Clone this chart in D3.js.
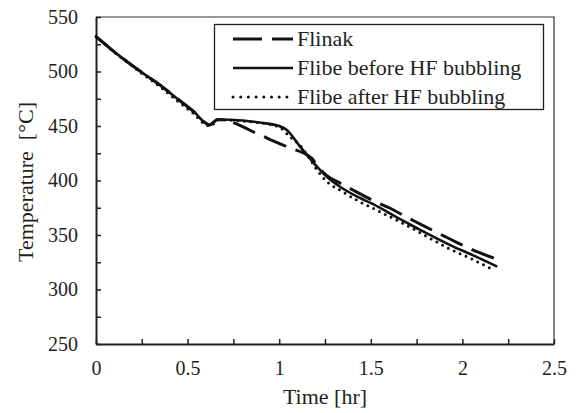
<!DOCTYPE html>
<html lang="en">
<head>
	<meta charset="utf-8">
	<title>Cooling curves</title>
	<script type="text/javascript" src="https://cdn.jsdelivr.net/npm/d3@7/dist/d3.min.js"></script>
	<style type="text/css">
		body { margin: 0; background: #fff; }
		text { font-family: "Liberation Serif", "Times New Roman", serif; fill: #231f20; }
	</style>
</head>
<body>
<script type="text/javascript">
	// data: time [hr] and temperature [C]
	var flinakTime = [0, 0.05, 0.1, 0.17, 0.26, 0.35, 0.44, 0.535, 0.6, 0.62, 0.665, 0.7, 0.8, 0.86, 0.9, 0.99, 1.05, 1.18, 1.2, 1.26, 1.34, 1.4, 1.52, 1.6, 1.7, 1.77, 1.9, 1.96, 2.09, 2.2];
	var flinakTemp = [532, 525, 518, 509, 498, 487.5, 475.5, 463, 452.5, 451, 456, 455.5, 449.5, 444.5, 441.5, 434.7, 430.5, 420, 415, 404.5, 397, 391.5, 381, 375, 366, 360, 349, 344, 334, 327];

	var beforeTime = [0, 0.05, 0.1, 0.17, 0.26, 0.35, 0.44, 0.535, 0.6, 0.62, 0.665, 0.8, 0.9, 1.0, 1.04, 1.11, 1.19, 1.26, 1.33, 1.44, 1.51, 1.66, 1.76, 1.93, 2.05, 2.19];
	var beforeTemp = [532, 525, 518, 509, 498, 487.5, 475.5, 463, 452.5, 451, 456, 455, 453, 450, 446.5, 432, 415.8, 403.5, 394.5, 384, 378.5, 364.5, 355.5, 341, 332, 321];

	var afterTime = [0, 0.05, 0.1, 0.17, 0.26, 0.35, 0.44, 0.535, 0.6, 0.625, 0.665, 0.8, 0.93, 1.0, 1.06, 1.11, 1.17, 1.205, 1.26, 1.33, 1.44, 1.53, 1.66, 1.76, 1.91, 2.05, 2.17];
	var afterTemp = [532, 525, 517.5, 508.5, 497, 486, 473.5, 461, 451, 450, 455.5, 454.5, 452, 449, 440, 433, 419, 410, 399, 391.3, 380.5, 373, 362, 353, 339, 328, 318];

	var seriesNames = ["Flinak", "Flibe before HF bubbling", "Flibe after HF bubbling"];
	var xTicks = [0, 0.5, 1, 1.5, 2, 2.5];
	var yTicks = [250, 300, 350, 400, 450, 500, 550];

	var w = 578;
	var h = 413;
	var pL = 96, pR = 554, pT = 17, pB = 344;

	var svg = d3.select("body")
		.append("svg")
		.attr("width", w)
		.attr("height", h)

	var xScale = d3.scaleLinear().domain([0, 2.5]).range([pL, pR]);
	var yScale = d3.scaleLinear().domain([250, 550]).range([pB, pT]);

	// plot area border (top + right)
	svg.append("path")
		.attr("d", "M" + pL + "," + pT + "H" + pR + "V" + pB)
		.attr("fill", "none")
		.attr("stroke", "#333")
		.attr("stroke-width", 1.2)

	// minor ticks every 25 / 0.25
	var yMinor = d3.range(250, 551, 25);
	var xMinor = d3.range(0, 2.51, 0.25);

	var yAxis = svg.append("g")
		.attr("transform", "translate(" + pL + ",0)")
		.call(d3.axisLeft(yScale).tickValues(yMinor).tickSizeInner(-5).tickSizeOuter(0).tickPadding(18)
			.tickFormat(function(d){
				return yTicks.indexOf(d) >= 0 ? d : ""
			}))
	var xAxis = svg.append("g")
		.attr("transform", "translate(0," + pB + ")")
		.call(d3.axisBottom(xScale).tickValues(xMinor).tickSizeInner(-5).tickSizeOuter(0).tickPadding(17)
			.tickFormat(function(d){
				var v = Math.round(d * 100) / 100;
				return xTicks.indexOf(v) >= 0 ? v : ""
			}))

	svg.selectAll(".domain").attr("stroke", "#231f20").attr("stroke-width", 2)
	svg.selectAll(".tick line").attr("stroke", "#231f20").attr("stroke-width", 1.5)
	svg.selectAll(".tick text")
		.attr("font-family", "Liberation Serif")
		.attr("font-size", "20px")
		.attr("fill", "#231f20")

	// axis titles
	svg.append("text")
		.attr("x", (pL + pR) / 2)
		.attr("y", 404)
		.attr("text-anchor", "middle")
		.attr("font-size", "22px")
		.text("Time [hr]")
	svg.append("text")
		.attr("transform", "translate(33,182) rotate(-90)")
		.attr("text-anchor", "middle")
		.attr("font-size", "22px")
		.text("Temperature\u00A0 [\u00B0C]")

	// lines
	var line = d3.line()
		.x(function(d){ return xScale(d[0]) })
		.y(function(d){ return yScale(d[1]) })
		.curve(d3.curveMonotoneX)

	var zip = function(a, b){
		return a.map(function(t, i){ return [t, b[i]] })
	}

	var styles = [
		{dash: "24,10", width: 3, cap: "butt"},
		{dash: null, width: 2.6, cap: "butt"},
		{dash: "0,6.5", width: 3, cap: "round"}
	];
	var series = [zip(flinakTime, flinakTemp), zip(beforeTime, beforeTemp), zip(afterTime, afterTemp)];

	svg.selectAll("path.curve")
		.data(series)
		.enter()
		.append("path")
		.attr("class", "curve")
		.attr("d", line)
		.attr("fill", "none")
		.attr("stroke", "#111")
		.attr("stroke-width", function(d, i){ return styles[i].width })
		.attr("stroke-dasharray", function(d, i){ return styles[i].dash })
		.attr("stroke-linecap", function(d, i){ return styles[i].cap })

	// legend
	var legend = svg.append("g")
	legend.append("rect")
		.attr("x", 214.5)
		.attr("y", 24.5)
		.attr("width", 329)
		.attr("height", 85)
		.attr("fill", "#fff")
		.attr("stroke", "#231f20")
		.attr("stroke-width", 1.3)

	var rows = legend.selectAll("g.row")
		.data(seriesNames)
		.enter()
		.append("g")
		.attr("class", "row")
		.attr("transform", function(d, i){ return "translate(0," + (39 + i * 29) + ")" })
	rows.append("line")
		.attr("x1", 233)
		.attr("x2", 293)
		.attr("stroke", "#111")
		.attr("stroke-width", function(d, i){ return styles[i].width })
		.attr("stroke-dasharray", function(d, i){ return i == 0 ? "29,10" : (i == 2 ? "0,7.7" : null) })
		.attr("stroke-linecap", function(d, i){ return styles[i].cap })
	rows.append("text")
		.attr("x", 297)
		.attr("y", 7)
		.attr("font-size", "22px")
		.text(function(d){ return d })
</script>
</body>
</html>
